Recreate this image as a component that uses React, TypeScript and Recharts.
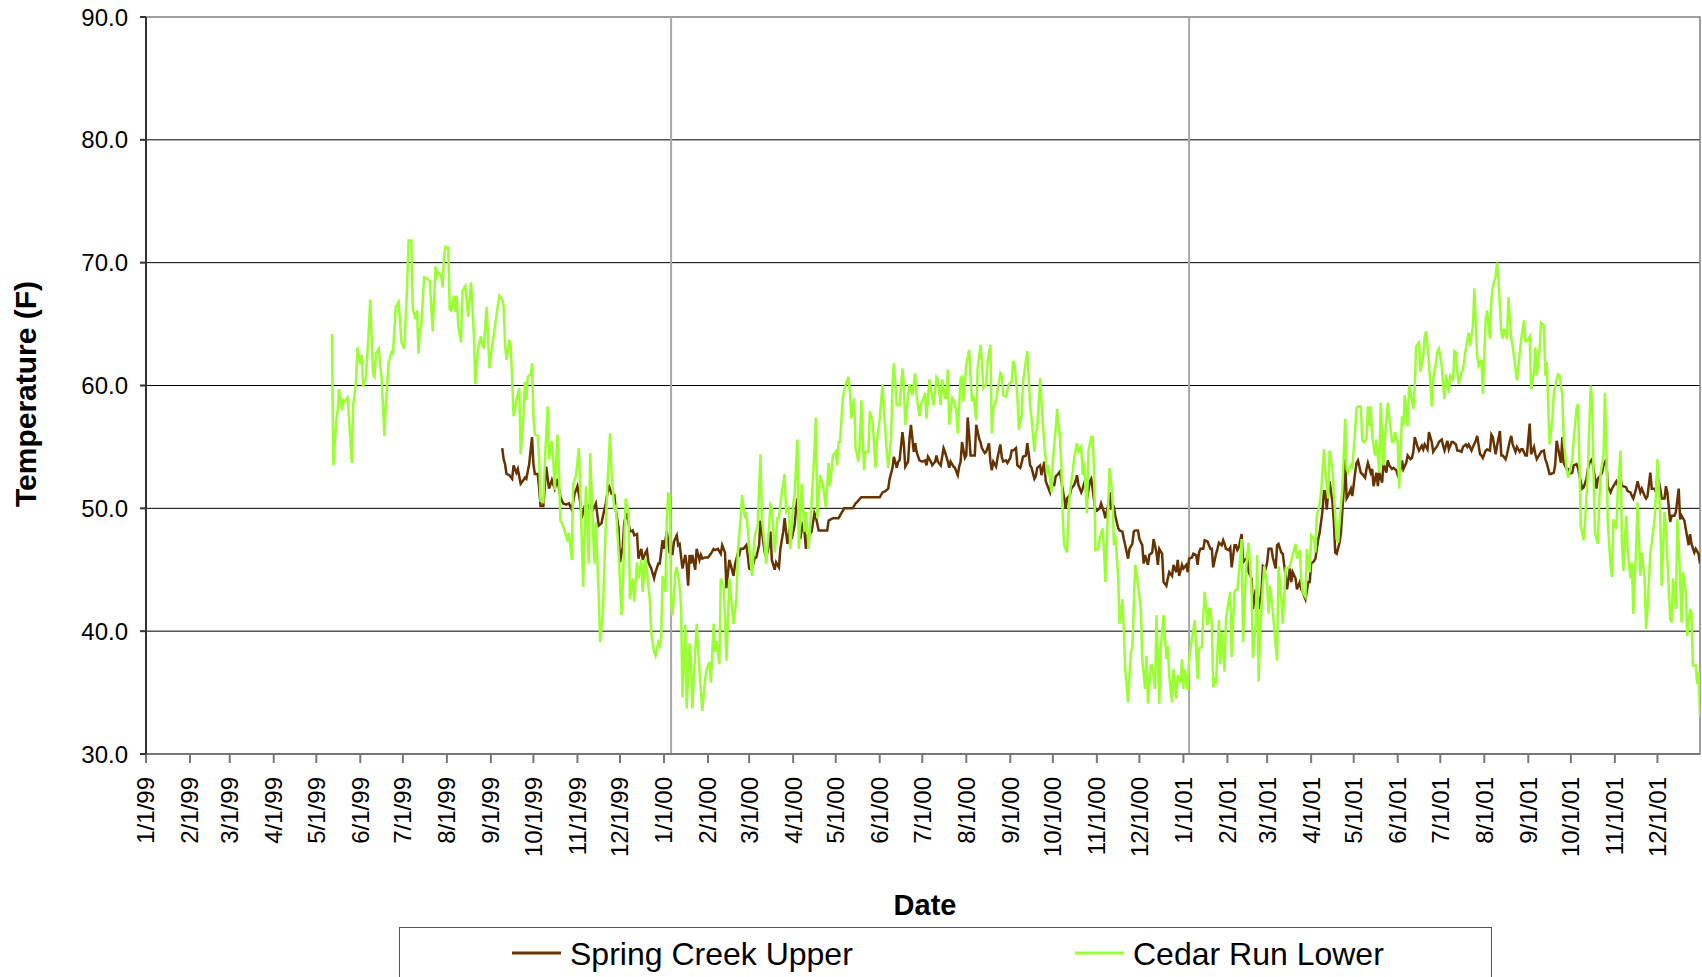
import React from 'react';
import {
  LineChart,
  Line,
  XAxis,
  YAxis,
  CartesianGrid,
  ReferenceLine,
  ReferenceArea,
} from 'recharts';

// daily water temperature readings: [days since 1/1/99, temperature in F]
const cedarRun1999: [number, number][] = [
  [131, 64.2], [132, 53.5], [134, 57.1], [135, 57.9], [136, 59.7], [138, 58.0], [139, 58.8], [140, 58.7], [142, 59.0], [143, 57.4],
  [145, 53.7], [146, 58.4], [148, 60.3], [149, 63.1], [151, 61.7], [152, 62.5], [153, 59.9], [155, 60.6], [157, 64.6], [158, 67.0],
  [160, 60.9], [161, 60.7], [162, 62.6], [164, 63.0], [166, 60.6], [168, 55.9], [169, 58.5], [171, 61.9], [173, 62.7], [174, 62.6],
  [176, 66.4], [178, 66.8], [180, 63.5], [182, 63.0], [184, 68.1], [185, 71.8], [187, 71.8], [188, 66.2], [190, 65.4], [191, 66.1],
  [192, 62.6], [193, 64.6], [194, 64.9], [196, 68.8], [198, 68.7], [200, 68.5], [202, 64.4], [204, 69.7], [205, 68.9], [206, 69.2],
  [208, 68.9], [209, 68.0], [210, 70.5], [211, 71.3], [213, 71.2], [214, 66.2], [215, 66.1], [217, 67.3], [218, 66.0], [219, 67.3],
  [220, 64.9], [222, 63.5], [223, 67.7], [225, 68.1], [227, 65.6], [229, 68.4], [230, 66.5], [231, 64.2], [232, 60.1], [234, 63.0],
  [236, 64.0], [237, 63.3], [238, 63.0], [240, 66.4], [242, 61.4], [244, 63.3], [246, 64.9], [248, 66.6], [249, 67.3], [251, 67.0],
  [252, 66.5], [253, 63.3], [254, 62.1], [256, 63.7], [257, 63.3], [259, 57.5], [260, 58.0], [261, 58.8], [263, 59.8], [264, 54.4],
  [266, 57.6], [267, 60.3], [268, 58.8], [269, 60.7], [271, 60.9], [272, 61.8], [273, 57.4], [274, 56.0], [276, 55.9], [277, 54.1],
  [278, 50.6], [280, 50.5], [281, 53.6], [283, 58.3], [284, 54.0], [286, 55.5], [287, 53.9], [288, 51.5], [290, 56.0], [291, 53.1],
  [292, 49.0], [293, 48.8], [295, 48.2], [297, 47.3], [298, 48.0], [300, 45.8], [301, 51.9], [303, 52.7], [305, 54.9], [306, 51.6],
  [308, 43.6], [310, 51.8], [312, 45.5], [313, 54.5], [315, 48.2], [316, 45.5], [317, 48.9], [319, 42.9], [320, 39.1], [322, 41.6],
  [323, 45.5], [325, 51.6], [327, 56.1], [328, 53.0], [330, 49.9], [331, 50.3], [333, 46.4], [335, 41.3], [336, 43.7], [338, 50.8],
  [340, 49.7], [341, 42.6], [343, 44.3], [344, 42.4], [346, 45.6], [347, 44.3], [349, 45.8], [350, 43.2], [352, 45.9], [353, 44.8],
  [355, 42.6], [356, 39.9], [358, 38.3], [359, 38.0], [361, 39.1], [362, 38.8], [363, 39.4], [364, 44.5],
];

const cedarRun2000: [number, number][] = [
  [366, 43.2], [367, 49.2], [368, 51.2], [369, 51.1], [370, 42.1], [371, 41.3], [373, 44.8], [374, 45.2], [376, 43.7], [377, 42.1],
  [378, 34.6], [380, 40.5], [381, 33.7], [383, 39.0], [384, 37.7], [385, 33.7], [387, 38.3], [388, 40.6], [390, 36.7], [392, 33.5],
  [394, 36.1], [395, 36.9], [397, 37.5], [398, 35.8], [400, 40.6], [401, 38.3], [402, 39.2], [404, 37.3], [405, 44.3], [407, 43.7],
  [408, 41.0], [409, 37.6], [411, 44.3], [414, 40.6], [416, 42.6], [417, 46.4], [419, 49.2], [420, 51.1], [422, 49.2], [423, 49.7],
  [425, 47.0], [427, 44.5], [429, 47.8], [431, 48.6], [433, 54.4], [434, 49.2], [436, 47.0], [437, 45.5], [439, 48.4], [440, 50.3],
  [441, 50.1], [443, 46.4], [445, 49.2], [446, 49.2], [448, 51.3], [450, 52.8], [451, 49.7], [453, 50.0], [454, 46.7], [456, 50.3],
  [457, 51.1], [459, 55.6], [460, 46.7], [462, 52.0], [464, 48.1], [465, 49.7], [467, 46.7], [469, 50.5], [471, 54.6], [472, 57.4],
  [473, 49.2], [475, 52.7], [477, 51.9], [479, 50.1], [481, 53.7], [482, 51.8], [484, 54.3], [486, 54.6], [487, 53.5], [488, 55.4],
  [489, 55.4], [491, 59.0], [493, 60.1], [495, 60.7], [496, 59.5], [497, 57.3], [499, 59.0], [500, 54.9], [502, 53.8], [503, 55.4],
  [504, 58.8], [506, 53.1], [507, 54.6], [509, 54.6], [510, 57.9], [512, 57.1], [514, 53.3], [515, 55.4], [517, 57.3], [519, 60.1],
  [520, 57.9], [522, 54.6], [523, 53.3], [525, 55.7], [526, 60.1], [527, 61.8], [529, 58.4], [531, 58.4], [533, 61.4], [534, 60.1],
  [535, 56.8], [537, 59.2], [538, 60.1], [540, 59.2], [541, 60.1], [542, 61.0], [543, 59.2], [545, 57.5], [546, 58.4], [548, 59.0],
  [549, 59.4], [550, 57.3], [552, 60.5], [554, 59.0], [555, 58.4], [557, 60.7], [558, 60.5], [560, 58.4], [561, 60.5], [563, 59.0],
  [564, 59.0], [565, 61.3], [566, 56.8], [568, 59.0], [569, 58.8], [571, 57.9], [572, 56.1], [574, 60.6], [575, 60.7], [576, 58.7],
  [578, 61.7], [580, 62.9], [582, 58.7], [583, 59.2], [585, 57.2], [586, 61.4], [588, 63.3], [589, 62.0], [590, 59.8], [592, 60.1],
  [593, 62.0], [595, 63.3], [596, 56.1], [597, 58.1], [599, 58.8], [600, 59.6], [602, 61.0], [603, 60.8], [604, 59.2], [606, 59.1],
  [608, 60.1], [610, 60.3], [611, 62.0], [612, 61.7], [614, 59.2], [615, 56.4], [617, 57.6], [618, 60.3], [620, 62.0], [621, 62.8],
  [623, 58.4], [624, 57.3], [626, 54.6], [627, 56.2], [628, 56.5], [630, 60.6], [632, 56.8], [633, 55.2], [635, 52.7], [636, 53.5],
  [638, 51.3], [639, 53.8], [641, 56.5], [642, 58.1], [644, 55.7], [645, 53.5], [646, 49.2], [647, 47.0], [649, 46.4], [650, 49.4],
  [651, 51.3], [653, 53.0], [654, 54.1], [656, 55.3], [657, 54.6], [659, 55.0], [660, 52.7], [661, 53.8], [663, 49.6], [664, 54.6],
  [666, 55.8], [667, 55.8], [668, 53.3], [669, 46.6], [671, 46.7], [672, 47.5], [674, 48.4], [675, 46.7], [676, 44.0], [678, 50.3],
  [679, 53.3], [681, 51.1], [682, 47.0], [683, 47.8], [685, 44.5], [686, 40.6], [688, 42.6], [689, 40.1], [690, 36.9], [692, 34.2],
  [694, 38.3], [695, 38.6], [697, 45.4], [698, 44.8], [699, 43.7], [701, 41.8], [702, 37.7], [704, 35.3], [705, 38.0], [706, 34.1],
  [708, 37.2], [709, 37.2], [711, 35.3], [712, 41.3], [713, 37.7], [714, 34.1], [715, 38.6], [717, 41.3], [719, 37.7], [720, 38.8],
  [721, 36.4], [723, 34.2], [724, 36.9], [726, 34.5], [727, 36.4], [729, 35.8], [730, 37.7],
];

const cedarRun2001: [number, number][] = [
  [731, 35.3], [732, 36.9], [734, 35.2], [735, 37.7], [737, 39.4], [738, 40.1], [739, 40.9], [741, 36.1], [742, 38.6], [744, 38.7],
  [745, 41.3], [746, 43.2], [748, 40.5], [749, 41.8], [750, 41.8], [751, 40.7], [752, 35.4], [753, 36.1], [754, 35.9], [756, 40.9],
  [757, 37.3], [758, 39.9], [760, 36.7], [761, 41.0], [762, 41.8], [764, 43.2], [765, 37.9], [767, 43.2], [768, 43.4], [769, 43.4],
  [771, 45.9], [772, 47.5], [773, 39.1], [775, 44.8], [776, 46.2], [777, 47.2], [779, 43.4], [780, 37.8], [782, 40.7], [783, 46.2],
  [784, 35.9], [785, 39.9], [787, 43.7], [788, 45.3], [790, 43.7], [791, 41.4], [792, 43.7], [794, 41.5], [795, 40.2], [797, 37.6],
  [798, 45.3], [800, 42.6], [801, 40.6], [803, 45.1], [804, 45.1], [806, 45.3], [808, 46.2], [810, 47.1], [811, 45.9], [813, 46.6],
  [814, 44.3], [815, 43.2], [817, 42.8], [818, 46.7], [820, 44.8], [821, 47.8], [823, 47.5], [824, 46.4], [825, 49.4], [827, 50.4],
  [828, 51.3], [830, 54.8], [831, 52.9], [833, 50.8], [834, 54.7], [836, 53.2], [837, 51.3], [839, 47.5], [840, 47.2], [841, 48.9],
  [843, 51.6], [845, 57.3], [846, 53.2], [847, 52.9], [849, 53.5], [850, 53.2], [852, 56.4], [853, 58.2], [854, 58.3], [856, 58.3],
  [857, 55.6], [858, 55.4], [860, 55.6], [861, 58.3], [862, 56.7], [863, 58.3], [864, 55.9], [866, 54.3], [867, 55.6], [869, 52.9],
  [870, 58.6], [872, 53.5], [873, 55.6], [875, 58.6], [876, 57.5], [878, 55.4], [879, 55.4], [880, 56.2], [882, 55.4], [883, 51.6],
  [885, 57.5], [886, 56.7], [887, 59.2], [889, 56.7], [890, 60.0], [891, 59.4], [893, 58.1], [894, 60.0], [895, 63.2], [897, 63.5],
  [898, 61.1], [900, 62.4], [901, 64.0], [902, 64.4], [904, 61.9], [906, 58.3], [907, 60.5], [909, 61.9], [910, 62.8], [911, 63.0],
  [913, 61.6], [914, 60.0], [915, 58.9], [916, 60.9], [918, 59.4], [919, 60.8], [921, 60.5], [922, 62.8], [923, 62.7], [924, 61.1],
  [925, 60.1], [927, 61.1], [928, 61.3], [930, 63.0], [932, 64.3], [933, 63.2], [935, 64.9], [936, 67.9], [938, 62.4], [939, 61.6],
  [941, 62.1], [942, 59.3], [944, 65.4], [945, 66.1], [947, 63.8], [948, 67.0], [949, 68.0], [951, 68.9], [952, 70.0], [953, 68.6],
  [955, 64.3], [956, 63.8], [957, 64.6], [959, 63.8], [960, 67.2], [962, 63.8], [963, 63.2], [964, 62.3], [966, 60.4], [968, 62.7],
  [969, 63.8], [971, 65.3], [972, 63.6], [973, 63.6], [975, 64.0], [976, 59.7], [978, 61.1], [979, 63.1], [980, 60.8], [982, 63.0],
  [983, 65.1], [985, 64.9], [986, 60.8], [987, 61.9], [989, 55.2], [991, 57.3], [992, 59.4], [994, 60.5], [995, 60.9], [996, 60.8],
  [998, 59.2], [999, 55.5], [1001, 53.2], [1002, 52.5], [1003, 52.9], [1005, 54.0], [1006, 55.6], [1008, 58.1], [1009, 58.5], [1010, 54.0],
  [1011, 48.6], [1013, 47.4], [1014, 48.9], [1016, 52.9], [1017, 56.7], [1018, 60.0], [1019, 58.6], [1020, 52.7], [1021, 48.0], [1023, 47.1],
  [1024, 50.5], [1025, 52.9], [1027, 54.3], [1028, 59.4], [1029, 55.1], [1030, 48.9], [1032, 45.3], [1033, 44.4], [1034, 49.1], [1036, 48.3],
  [1037, 51.3], [1039, 54.7], [1040, 47.2], [1041, 44.9], [1043, 49.4], [1044, 46.7], [1046, 44.3], [1047, 45.6], [1048, 41.4], [1050, 46.7],
  [1051, 50.5], [1053, 44.5], [1054, 46.4], [1056, 44.3], [1057, 40.2], [1058, 41.8], [1060, 46.4], [1061, 47.2], [1063, 49.1], [1064, 51.3],
  [1065, 54.0], [1067, 49.4], [1068, 43.7], [1070, 49.7], [1071, 48.6], [1072, 45.9], [1074, 41.0], [1075, 40.7], [1076, 44.3], [1078, 41.8],
  [1079, 49.1], [1080, 47.2], [1082, 40.7], [1083, 44.8], [1085, 43.2], [1086, 39.6], [1088, 41.8], [1089, 41.5], [1090, 37.2], [1092, 37.2],
  [1093, 35.7], [1094, 36.7], [1095, 33.0],
];

const springCreek1999: [number, number][] = [
  [251, 54.9], [252, 54.0], [253, 53.6], [254, 52.8], [256, 52.7], [258, 52.4], [259, 53.5], [261, 52.9], [262, 53.2], [264, 52.0],
  [266, 52.3], [267, 52.5], [268, 52.4], [270, 53.6], [272, 55.8], [273, 53.6], [274, 52.8], [276, 52.8], [277, 51.7], [278, 50.2],
  [280, 50.2], [282, 53.4], [284, 51.6], [286, 52.3], [288, 51.6], [290, 52.4], [292, 50.9], [294, 50.4], [296, 50.3], [298, 50.4],
  [300, 49.9], [302, 51.2], [304, 51.8], [306, 50.5], [307, 49.2], [309, 50.1], [311, 49.9], [313, 50.4], [315, 49.9], [317, 50.4],
  [319, 48.6], [321, 48.8], [322, 49.4], [324, 50.4], [326, 51.9], [328, 51.2], [330, 51.1], [331, 49.9], [333, 48.4], [334, 45.6],
  [336, 46.9], [337, 48.9], [339, 49.6], [341, 48.1], [343, 48.2], [344, 47.8], [346, 47.9], [347, 45.9], [349, 46.7], [350, 45.8],
  [352, 46.4], [353, 46.6], [354, 45.6], [356, 45.1], [358, 44.3], [359, 44.8], [361, 45.5], [362, 45.5], [364, 47.4],
];

const springCreek2000: [number, number][] = [
  [365, 46.7], [367, 48.1], [369, 46.4], [371, 46.3], [372, 47.3], [374, 47.8], [375, 47.0], [376, 47.1], [378, 45.1], [380, 46.2],
  [381, 45.4], [382, 43.7], [383, 46.2], [384, 45.5], [385, 46.2], [387, 45.0], [388, 46.7], [390, 45.8], [391, 46.2], [392, 45.9],
  [394, 46.0], [396, 46.0], [398, 46.3], [400, 46.7], [401, 46.6], [403, 46.7], [405, 46.3], [406, 47.0], [408, 46.4], [409, 43.5],
  [411, 45.8], [412, 45.4], [414, 44.5], [415, 45.4], [417, 46.3], [418, 46.2], [419, 46.7], [421, 46.7], [423, 47.0], [424, 46.2],
  [425, 45.1], [427, 45.0], [429, 46.0], [430, 46.0], [432, 47.0], [433, 49.0], [434, 48.1], [436, 46.4], [437, 46.0], [439, 47.0],
  [440, 48.1], [441, 45.8], [443, 45.0], [444, 45.6], [446, 45.2], [447, 46.7], [449, 48.1], [450, 49.2], [451, 48.1], [452, 47.1],
  [454, 48.6], [455, 47.5], [457, 48.6], [458, 49.9], [459, 50.8], [460, 49.2], [461, 47.5], [463, 48.9], [464, 48.1], [465, 46.7],
  [466, 47.8], [467, 47.8], [469, 48.1], [471, 49.6], [472, 49.3], [474, 48.2], [476, 48.2], [478, 48.2], [480, 48.2], [481, 49.0],
  [484, 49.2], [488, 49.2], [490, 49.6], [492, 50.0], [495, 50.0], [498, 50.0], [500, 50.4], [501, 50.5], [504, 50.9], [508, 50.9],
  [512, 50.9], [517, 50.9], [519, 51.3], [521, 51.4], [523, 51.6], [524, 52.4], [526, 53.3], [527, 54.2], [529, 53.3], [530, 53.8],
  [531, 53.9], [533, 56.2], [534, 55.2], [535, 53.4], [537, 53.8], [538, 55.7], [539, 56.8], [541, 54.6], [542, 55.3], [543, 54.6],
  [545, 53.9], [547, 53.8], [549, 53.9], [550, 53.5], [551, 54.2], [553, 53.8], [554, 53.5], [556, 53.8], [557, 54.3], [558, 53.8],
  [560, 53.5], [562, 54.9], [563, 54.6], [565, 53.8], [566, 53.3], [567, 53.8], [569, 53.4], [570, 53.3], [572, 52.7], [573, 53.4],
  [574, 53.8], [575, 55.4], [577, 54.1], [578, 54.3], [579, 57.4], [580, 56.0], [581, 54.3], [583, 54.3], [584, 54.3], [585, 56.8],
  [587, 55.7], [588, 55.4], [589, 54.9], [591, 54.5], [592, 54.6], [594, 55.3], [595, 53.8], [596, 53.1], [597, 53.8], [599, 53.4],
  [600, 54.1], [602, 55.2], [603, 54.2], [604, 53.8], [606, 53.9], [607, 53.7], [609, 54.1], [610, 54.7], [611, 54.7], [613, 54.9],
  [614, 53.5], [616, 53.3], [617, 53.7], [618, 54.2], [620, 54.3], [621, 55.3], [623, 53.5], [624, 53.3], [626, 52.4], [627, 52.6],
  [628, 53.3], [630, 53.5], [631, 52.7], [633, 53.8], [634, 52.2], [635, 51.9], [637, 51.3], [638, 52.0], [640, 51.9], [641, 52.6],
  [642, 52.7], [644, 53.0], [645, 52.2], [647, 50.8], [648, 50.0], [649, 50.8], [651, 51.1], [652, 51.6], [654, 51.9], [655, 52.2],
  [656, 52.7], [657, 51.9], [659, 51.3], [660, 51.6], [662, 52.4], [663, 50.7], [665, 52.2], [666, 52.4], [667, 51.6], [669, 49.8],
  [670, 49.8], [672, 50.0], [673, 50.4], [675, 49.7], [676, 49.2], [678, 50.3], [679, 51.3], [680, 50.0], [682, 50.1], [683, 49.4],
  [685, 48.4], [686, 48.2], [688, 48.1], [689, 47.5], [690, 47.0], [692, 45.9], [693, 46.7], [695, 47.1], [696, 48.1], [697, 48.2],
  [699, 48.2], [700, 47.5], [702, 47.0], [703, 45.5], [704, 46.2], [706, 45.4], [707, 46.2], [709, 46.4], [710, 47.5], [712, 46.4],
  [713, 45.4], [714, 46.7], [716, 46.3], [717, 44.0], [719, 43.7], [720, 44.3], [721, 44.8], [723, 44.5], [724, 45.4], [726, 44.8],
  [727, 45.8], [728, 44.5], [730, 45.4],
];

const springCreek2001: [number, number][] = [
  [731, 45.1], [733, 45.4], [734, 44.8], [735, 45.9], [737, 46.0], [738, 46.3], [740, 46.2], [741, 45.4], [742, 46.4], [743, 46.7],
  [745, 46.7], [746, 47.4], [748, 47.3], [749, 47.0], [750, 46.7], [751, 46.7], [752, 45.2], [754, 46.3], [755, 46.7], [756, 47.2],
  [758, 47.0], [759, 47.4], [760, 47.1], [761, 46.7], [763, 46.6], [764, 46.8], [765, 45.2], [767, 47.0], [768, 47.0], [769, 46.6],
  [770, 46.8], [772, 47.9], [773, 45.6], [775, 45.9], [776, 45.9], [777, 44.8], [779, 44.3], [780, 41.8], [782, 43.4], [783, 42.6],
  [784, 41.8], [786, 43.2], [787, 45.3], [789, 45.1], [790, 45.6], [791, 46.7], [793, 46.7], [794, 46.0], [796, 45.1], [797, 47.0],
  [798, 47.1], [800, 46.4], [801, 46.3], [803, 44.5], [804, 43.4], [806, 45.1], [807, 44.0], [808, 44.8], [810, 44.3], [811, 43.4],
  [813, 44.0], [814, 43.4], [815, 43.2], [817, 42.6], [819, 44.0], [820, 44.0], [821, 45.5], [823, 45.7], [824, 45.9], [826, 47.5],
  [827, 48.0], [829, 49.8], [830, 51.4], [831, 51.4], [832, 49.9], [833, 51.3], [834, 52.2], [836, 50.5], [837, 48.9], [838, 46.4],
  [839, 46.3], [841, 47.2], [842, 48.0], [844, 51.6], [845, 54.0], [846, 50.8], [847, 51.0], [849, 51.6], [850, 51.0], [852, 52.9],
  [853, 53.7], [854, 53.9], [856, 52.9], [857, 52.8], [859, 52.5], [860, 53.2], [861, 53.7], [863, 52.9], [864, 53.2], [865, 51.8],
  [867, 52.9], [868, 51.8], [869, 52.9], [871, 52.1], [872, 53.7], [874, 52.9], [875, 53.9], [876, 53.5], [878, 53.2], [879, 53.3],
  [881, 53.1], [882, 52.7], [884, 53.2], [885, 53.9], [886, 53.2], [888, 53.7], [889, 54.3], [891, 54.0], [892, 54.1], [893, 54.6],
  [894, 55.8], [896, 55.0], [897, 54.7], [899, 55.1], [900, 54.8], [901, 55.2], [903, 54.8], [904, 56.2], [906, 55.4], [907, 54.6],
  [908, 54.8], [910, 55.1], [911, 55.4], [913, 55.6], [914, 55.1], [915, 54.7], [917, 55.5], [918, 54.8], [920, 55.4], [921, 55.4],
  [923, 55.2], [924, 54.7], [925, 54.7], [927, 54.6], [928, 55.0], [930, 55.2], [931, 55.0], [932, 55.2], [934, 54.7], [935, 55.0],
  [937, 55.5], [938, 55.9], [940, 54.4], [941, 54.3], [942, 54.1], [944, 54.7], [945, 54.8], [947, 54.7], [948, 56.0], [949, 55.8],
  [951, 54.4], [952, 55.1], [954, 56.3], [955, 54.3], [956, 54.3], [958, 54.0], [959, 54.4], [961, 55.5], [962, 55.9], [963, 55.2],
  [965, 54.6], [966, 55.0], [968, 54.6], [969, 54.8], [970, 54.8], [972, 54.3], [973, 54.3], [975, 56.9], [976, 54.4], [978, 55.0],
  [979, 54.4], [980, 54.0], [982, 54.4], [983, 54.6], [985, 54.7], [986, 54.0], [987, 53.7], [989, 52.8], [990, 52.8], [992, 52.9],
  [993, 53.6], [994, 55.5], [996, 54.3], [997, 53.7], [998, 55.8], [999, 53.7], [1001, 53.2], [1002, 53.2], [1003, 52.8], [1005, 52.9],
  [1006, 53.5], [1008, 53.6], [1009, 53.3], [1010, 52.7], [1012, 51.6], [1013, 51.7], [1015, 52.4], [1016, 53.2], [1017, 53.7], [1019, 54.0],
  [1020, 53.2], [1022, 51.6], [1023, 52.4], [1025, 52.7], [1026, 52.9], [1027, 53.5], [1029, 54.0], [1030, 51.8], [1032, 51.3], [1033, 51.6],
  [1034, 51.8], [1036, 52.2], [1037, 51.9], [1039, 52.5], [1040, 51.8], [1041, 51.8], [1043, 51.7], [1044, 51.4], [1046, 51.3], [1047, 51.0],
  [1048, 50.8], [1050, 51.6], [1051, 52.2], [1053, 51.3], [1054, 51.6], [1056, 51.0], [1057, 50.8], [1058, 51.0], [1060, 52.9], [1061, 51.6],
  [1063, 51.6], [1064, 51.3], [1065, 52.7], [1067, 51.6], [1068, 50.8], [1070, 50.8], [1071, 51.8], [1072, 51.3], [1074, 48.9], [1075, 49.4],
  [1077, 49.4], [1078, 49.7], [1080, 51.6], [1081, 49.1], [1082, 49.4], [1084, 49.0], [1085, 48.3], [1087, 47.0], [1088, 47.9], [1089, 47.1],
  [1091, 46.4], [1092, 46.7], [1094, 46.3], [1095, 45.5],
];

const monthTicks = [
  '1/1/99', '2/1/99', '3/1/99', '4/1/99', '5/1/99', '6/1/99', '7/1/99', '8/1/99', '9/1/99', '10/1/99', '11/1/99', '12/1/99',
  '1/1/00', '2/1/00', '3/1/00', '4/1/00', '5/1/00', '6/1/00', '7/1/00', '8/1/00', '9/1/00', '10/1/00', '11/1/00', '12/1/00',
  '1/1/01', '2/1/01', '3/1/01', '4/1/01', '5/1/01', '6/1/01', '7/1/01', '8/1/01', '9/1/01', '10/1/01', '11/1/01', '12/1/01',
];
const tempTicks = [30, 40, 50, 60, 70, 80, 90];
const yearLineDays = [370, 735];

const SPRING = 'Spring Creek Upper';
const CEDAR = 'Cedar Run Lower';
const BROWN = '#663300';
const LIME = '#99ff33';
const FONT = '"Liberation Sans", Arial, sans-serif';

const DAY0 = Date.UTC(1999, 0, 1);
function dayOf(label: string) {
  const [m, d, y] = label.split('/').map(Number);
  return Math.round((Date.UTC(y < 50 ? 2000 + y : 1900 + y, m - 1, d) - DAY0) / 86400000);
}
const tickDays = monthTicks.map(dayOf);
const labelByDay = new Map(tickDays.map((d, i) => [d, monthTicks[i]]));

const toRows = (pts: [number, number][]) => pts.map(([day, temp]) => ({ day, temp }));
const springRows = toRows([...springCreek1999, ...springCreek2000, ...springCreek2001]);
const cedarRows = toRows([...cedarRun1999, ...cedarRun2000, ...cedarRun2001]);

function DateTick({ x, y, payload }: any) {
  return (
    <text
      x={x}
      y={y}
      transform={`rotate(-90, ${x}, ${y})`}
      textAnchor="end"
      dy="0.35em"
      fontSize={24}
      fontFamily={FONT}
      fill="#000"
    >
      {labelByDay.get(payload.value)}
    </text>
  );
}

export default function App() {
  return (
    <div style={{ position: 'absolute', left: 0, top: 0, width: 1702, height: 977, background: '#fff' }}>
      <LineChart width={1702} height={977} margin={{ top: 17, right: 2, bottom: 73, left: 0 }}>
        <CartesianGrid vertical={false} stroke="#000" horizontalValues={[40, 50, 60, 70, 80]} />
        <ReferenceArea x1={0} x2={1095} y1={30} y2={90} fill="none" stroke="#808080" strokeWidth={1.5} ifOverflow="visible" />
        {yearLineDays.map((d) => (
          <ReferenceLine key={d} x={d} stroke="#a8a8a8" strokeWidth={2} />
        ))}
        <XAxis
          type="number"
          dataKey="day"
          domain={[0, 1095]}
          ticks={tickDays}
          interval={0}
          tick={<DateTick />}
          tickSize={9}
          tickMargin={14}
          height={150}
          stroke="#777"
          strokeWidth={2}
          allowDataOverflow
        />
        <YAxis
          type="number"
          domain={[30, 90]}
          ticks={tempTicks}
          interval={0}
          tickFormatter={(v: number) => v.toFixed(1)}
          width={146}
          tickSize={6}
          tickMargin={12}
          tick={{ fontSize: 24, fill: '#000', fontFamily: FONT }}
          stroke="#333"
          strokeWidth={2}
        />
        <Line
          data={springRows}
          dataKey="temp"
          name={SPRING}
          stroke={BROWN}
          strokeWidth={2.5}
          dot={false}
          activeDot={false}
          isAnimationActive={false}
        />
        <Line
          data={cedarRows}
          dataKey="temp"
          name={CEDAR}
          stroke={LIME}
          strokeWidth={2.5}
          dot={false}
          activeDot={false}
          isAnimationActive={false}
        />
      </LineChart>

      <svg
        width={1702}
        height={977}
        style={{ position: 'absolute', left: 0, top: 0, pointerEvents: 'none' }}
        fontFamily={FONT}
      >
        <text transform="translate(36 394) rotate(-90)" textAnchor="middle" fontSize={30} fontWeight="bold">
          Temperature (F)
        </text>
        <text x={925} y={915} textAnchor="middle" fontSize={29} fontWeight="bold">
          Date
        </text>
        <rect x={399.5} y={927.5} width={1092} height={80} fill="#fff" stroke="#555" />
        <line x1={512} x2={561} y1={953} y2={953} stroke={BROWN} strokeWidth={3} />
        <text x={570} y={965} fontSize={32}>{SPRING}</text>
        <line x1={1075} x2={1124} y1={953} y2={953} stroke={LIME} strokeWidth={3} />
        <text x={1133} y={965} fontSize={32}>{CEDAR}</text>
      </svg>
    </div>
  );
}
